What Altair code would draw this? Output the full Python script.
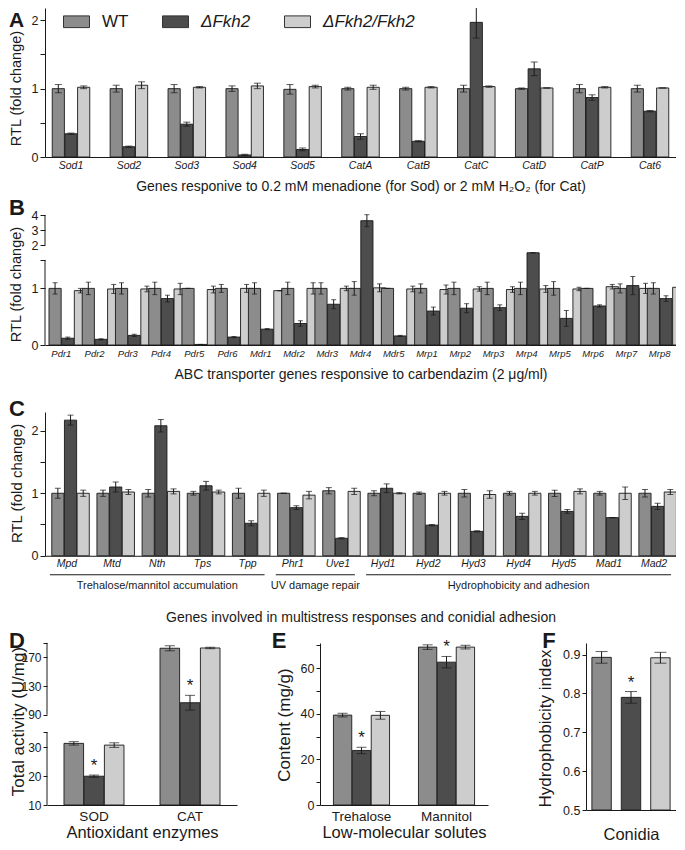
import altair as alt
import pandas as pd

# ---------------- data ----------------
SERIES = ["WT", "ΔFkh2", "ΔFkh2/Fkh2"]
SERIES_FILL = ["#8c8c8c", "#4d4d4d", "#cdcdcd"]
PANEL_LETTERS = ["A", "B", "C", "D", "E", "F"]

A_GENES = ["Sod1", "Sod2", "Sod3", "Sod4", "Sod5", "CatA", "CatB", "CatC", "CatD", "CatP", "Cat6"]
A_WT = [1.00, 1.00, 1.00, 1.00, 0.99, 1.00, 1.00, 1.00, 1.00, 1.00, 1.00]
A_WT_ERR = [0.06, 0.05, 0.06, 0.04, 0.07, 0.02, 0.02, 0.05, 0.01, 0.06, 0.05]
A_DEL = [0.34, 0.15, 0.48, 0.03, 0.11, 0.30, 0.23, 1.97, 1.29, 0.87, 0.67]
A_DEL_ERR = [0.01, 0.01, 0.03, 0.01, 0.02, 0.04, 0.01, 0.23, 0.10, 0.04, 0.01]
A_COM = [1.02, 1.05, 1.02, 1.04, 1.03, 1.02, 1.02, 1.03, 1.01, 1.02, 1.01]
A_COM_ERR = [0.02, 0.05, 0.01, 0.04, 0.02, 0.03, 0.01, 0.01, 0.00, 0.01, 0.00]
A_TITLE = "Genes responive to 0.2 mM menadione (for Sod) or 2 mM H₂O₂ (for Cat)"

B_GENES = ["Pdr1", "Pdr2", "Pdr3", "Pdr4", "Pdr5", "Pdr6", "Mdr1", "Mdr2", "Mdr3", "Mdr4",
           "Mdr5", "Mrp1", "Mrp2", "Mrp3", "Mrp4", "Mrp5", "Mrp6", "Mrp7", "Mrp8"]
B_WT = [1.00, 1.00, 1.00, 1.00, 1.00, 1.00, 1.00, 1.00, 1.00, 1.00, 1.00, 1.00, 1.00, 1.00, 1.00, 1.00, 1.00, 1.00, 1.00]
B_WT_ERR = [0.10, 0.11, 0.10, 0.11, 0.00, 0.07, 0.10, 0.11, 0.10, 0.12, 0.00, 0.08, 0.11, 0.11, 0.11, 0.12, 0.00, 0.08, 0.10]
B_DEL = [0.12, 0.10, 0.17, 0.82, 0.01, 0.14, 0.28, 0.38, 0.72, 3.62, 0.16, 0.60, 0.65, 0.66, 1.63, 0.47, 0.69, 1.05, 0.82]
B_DEL_ERR = [0.02, 0.01, 0.02, 0.06, 0.00, 0.01, 0.01, 0.05, 0.08, 0.40, 0.01, 0.07, 0.08, 0.05, 0.00, 0.14, 0.02, 0.16, 0.05]
B_COM = [0.96, 0.99, 0.99, 0.99, 0.98, 1.00, 0.96, 1.00, 1.00, 1.01, 0.99, 0.98, 0.99, 0.98, 0.99, 0.99, 1.03, 1.00, 1.02]
B_COM_ERR = [0.04, 0.08, 0.05, 0.10, 0.06, 0.07, 0.00, 0.10, 0.04, 0.07, 0.05, 0.08, 0.04, 0.05, 0.06, 0.03, 0.04, 0.09, 0.17]
B_AXIS_SEGMENTS_LO = [0.0, 2.0]
B_AXIS_SEGMENTS_HI = [1.5, 4.0]
B_TITLE = "ABC transporter genes responsive to carbendazim (2 μg/ml)"

C_GENES = ["Mpd", "Mtd", "Nth", "Tps", "Tpp", "Phr1", "Uve1", "Hyd1", "Hyd2", "Hyd3", "Hyd4", "Hyd5", "Mad1", "Mad2"]
C_WT = [1.00, 1.00, 1.00, 1.00, 1.00, 1.00, 1.04, 1.00, 1.00, 1.00, 1.00, 1.00, 1.00, 1.00]
C_WT_ERR = [0.08, 0.05, 0.06, 0.03, 0.08, 0.00, 0.05, 0.04, 0.02, 0.06, 0.03, 0.05, 0.03, 0.06]
C_DEL = [2.17, 1.10, 2.08, 1.12, 0.52, 0.77, 0.28, 1.08, 0.49, 0.39, 0.63, 0.71, 0.61, 0.79]
C_DEL_ERR = [0.08, 0.08, 0.10, 0.07, 0.04, 0.03, 0.01, 0.07, 0.01, 0.01, 0.05, 0.03, 0.00, 0.05]
C_COM = [1.00, 1.02, 1.03, 1.02, 1.00, 0.97, 1.03, 1.00, 1.00, 0.98, 1.00, 1.03, 1.00, 1.02]
C_COM_ERR = [0.05, 0.04, 0.04, 0.03, 0.05, 0.06, 0.05, 0.01, 0.03, 0.06, 0.03, 0.04, 0.10, 0.04]
C_GROUP_NAMES = ["Trehalose/mannitol accumulation", "UV damage repair", "Hydrophobicity and adhesion"]
C_GROUP_FIRST = ["Mpd", "Phr1", "Hyd1"]
C_GROUP_LAST = ["Tpp", "Uve1", "Mad2"]
C_TITLE = "Genes involved in multistress responses and conidial adhesion"

D_CATS = ["SOD", "CAT"]
D_WT = [31.4, 182.6]
D_WT_ERR = [0.6, 3.5]
D_DEL = [20.0, 106.7]
D_DEL_ERR = [0.4, 10.3]
D_COM = [30.8, 183.0]
D_COM_ERR = [0.8, 1.0]
D_AXIS_SEGMENTS_LO = [10.0, 90.0]
D_AXIS_SEGMENTS_HI = [35.3, 190.0]

E_CATS = ["Trehalose", "Mannitol"]
E_WT = [39.4, 69.2]
E_WT_ERR = [0.8, 1.0]
E_DEL = [23.9, 62.6]
E_DEL_ERR = [1.4, 2.5]
E_COM = [39.3, 69.2]
E_COM_ERR = [1.7, 0.8]

F_VAL = [0.893, 0.790, 0.892]
F_ERR = [0.015, 0.015, 0.014]

# ---------------- style ----------------
INK = "#1a1a1a"
REG = "Liberation Sans, Arial, Helvetica, sans-serif"
PANEL_W = 631


def long_table(cats, wt, wt_err, de, de_err, co, co_err):
    rows = []
    for i, c in enumerate(cats):
        for s, v, e in zip(SERIES, (wt[i], de[i], co[i]), (wt_err[i], de_err[i], co_err[i])):
            rows.append({"cat": c, "series": s, "v": v, "err": e})
    return pd.DataFrame(rows)


def map_b(f):
    return f"(datum.{f} <= 1.77 ? datum.{f} * 56.6 : 100 + (datum.{f} - 2) * 15)"


def map_d(f):
    return f"(datum.{f} <= 40 ? (datum.{f} - 10) * 2.88 : 90.3 + (datum.{f} - 90) * 0.7175)"


def with_display(chart, mapping):
    chart = chart.transform_calculate(lo="datum.v - datum.err").transform_calculate(hi="datum.v + datum.err")
    if mapping is None:
        return (chart.transform_calculate(d="datum.v")
                .transform_calculate(dlo="datum.lo").transform_calculate(dhi="datum.hi"))
    return (chart.transform_calculate(d=mapping("v"))
            .transform_calculate(dlo=mapping("lo")).transform_calculate(dhi=mapping("hi")))


def y_axis(values, label_expr, title, title_x, title_y, domain=True, offset=None,
           font_size=12.5, title_size=14.5, tick_size=5):
    kw = dict(values=values, labelExpr=label_expr, title=title, grid=False, domain=domain,
              domainColor=INK, domainWidth=1, ticks=True, tickSize=tick_size, tickColor=INK,
              tickWidth=1, labelFont=REG, labelFontSize=font_size, labelColor=INK,
              labelPadding=2, titleFont=REG, titleFontSize=title_size, titleFontWeight="normal",
              titleColor=INK, titleX=title_x, titleY=title_y, titleAlign="center",
              titleBaseline="middle", titleAngle=270, orient="left")
    if offset is not None:
        kw["offset"] = offset
    return alt.Axis(**kw)


def x_axis(title, title_y, label_size=10.5, italic=True, label_pad=3,
           title_size=14, offset=None, labels=True):
    kw = dict(title=title, labelAngle=0, labels=labels, labelFont=REG,
              labelFontSize=label_size, labelFontStyle="italic" if italic else "normal",
              labelColor=INK, labelPadding=label_pad, ticks=False, tickSize=0, grid=False,
              domain=True, domainColor=INK, domainWidth=1, titleFont=REG,
              titleFontSize=title_size, titleFontWeight="normal", titleColor=INK,
              titleY=title_y, titleBaseline="middle", orient="bottom")
    if offset is not None:
        kw["offset"] = offset
    return alt.Axis(**kw)


def fill_enc():
    return {"fill": alt.Fill("series:N", scale=alt.Scale(domain=SERIES, range=SERIES_FILL), legend=None)}


def bars_block(df, x_enc, y_scale, y_ax, paint, cap, mapping=None, offset=True,
               star=False, y2_base=None, offset_pad=0.04):
    base = with_display(alt.Chart(df), mapping)
    xo = alt.XOffset("series:N", scale=alt.Scale(domain=SERIES, paddingInner=offset_pad)) if offset else None

    def enc(**kw):
        e = {"x": x_enc}
        if xo is not None:
            e["xOffset"] = xo
        e.update(kw)
        return e

    bar_kw = {"y": alt.Y("d:Q", scale=y_scale, axis=y_ax)}
    if y2_base is not None:
        bar_kw["y2"] = alt.datum(y2_base)
    bar_kw.update(paint)
    bars = base.mark_bar(stroke=INK, strokeWidth=0.9).encode(**enc(**bar_kw))
    rule = base.mark_rule(color=INK, strokeWidth=1).encode(
        **enc(y=alt.Y("dlo:Q", scale=y_scale, axis=y_ax), y2=alt.Y2("dhi:Q")))
    cap_lo = base.mark_tick(color=INK, thickness=1, size=cap).encode(
        **enc(y=alt.Y("dlo:Q", scale=y_scale, axis=y_ax)))
    cap_hi = base.mark_tick(color=INK, thickness=1, size=cap).encode(
        **enc(y=alt.Y("dhi:Q", scale=y_scale, axis=y_ax)))
    layers = [bars, rule, cap_lo, cap_hi]
    if star:
        s = (base.transform_filter(alt.datum.series == SERIES[1])
             .mark_text(text="*", dy=-9, fontSize=17, font=REG, color=INK)
             .encode(**enc(y=alt.Y("dhi:Q", scale=y_scale, axis=y_ax))))
        layers.append(s)
    return layers


def letter(ch, x, y, align="left", size=22):
    return alt.Chart(pd.DataFrame({"t": [ch]})).mark_text(
        font=REG, fontSize=size, fontWeight="bold", align=align, baseline="middle", color=INK
    ).encode(text="t:N", x=alt.value(x), y=alt.value(y))


def axis_segments(lo, hi, mapping, y_scale, y_ax, xpos):
    seg = pd.DataFrame({"lo": lo, "hi": hi})
    return (alt.Chart(seg).transform_calculate(slo=mapping("lo")).transform_calculate(shi=mapping("hi"))
            .mark_rule(color=INK, strokeWidth=1)
            .encode(x=alt.value(xpos), y=alt.Y("slo:Q", scale=y_scale, axis=y_ax), y2=alt.Y2("shi:Q")))


def spacer(h):
    return alt.Chart(pd.DataFrame({"gap": [0]})).mark_rule(opacity=0).encode(
        x=alt.value(0), y=alt.value(0), y2=alt.value(1)).properties(width=10, height=h)


def band_x(cats, pin, pout, axis, rng=None, field="cat"):
    sc = dict(domain=cats, paddingInner=pin, paddingOuter=pout)
    if rng is not None:
        sc["range"] = rng
    return alt.X(f"{field}:N", scale=alt.Scale(**sc), axis=axis)


# ---------------- panel A ----------------
A_H, A_PIN, A_POUT = 149, 0.352, 0.125
a_df = long_table(A_GENES, A_WT, A_WT_ERR, A_DEL, A_DEL_ERR, A_COM, A_COM_ERR)
a_ys = alt.Scale(domain=[0, 2.18], nice=False, zero=True)
a_ya = y_axis([0, 0.5, 1, 1.5, 2], "datum.value % 1 == 0 ? format(datum.value, 'd') : ''",
              "RTL (fold change)", -28.5, 80)
a_x = band_x(A_GENES, A_PIN, A_POUT, x_axis(A_TITLE, 29))
a_paint = {"color": alt.Color(
    "series:N", scale=alt.Scale(domain=SERIES, range=SERIES_FILL),
    legend=alt.Legend(orient="none", legendX=18, legendY=0, direction="horizontal", columns=3,
                      title=None, padding=0, columnPadding=31, labelOffset=12,
                      symbolType="M-1,-0.45H1V0.45H-1Z", symbolSize=676,
                      symbolStrokeColor="#333", symbolStrokeWidth=1, labelFont=REG,
                      labelFontSize=17, labelColor=INK,
                      labelFontStyle=alt.ExprRef(expr="datum.label == 'WT' ? 'normal' : 'italic'")))}
a_layers = bars_block(a_df, a_x, a_ys, a_ya, a_paint, 7)
panel_a = alt.layer(*a_layers, letter(PANEL_LETTERS[0], -36, 13, size=21)).properties(width=PANEL_W, height=A_H)

# ---------------- panel B ----------------
B_H, B_PIN, B_POUT = 135, 0.256, 0.12
b_df = long_table(B_GENES, B_WT, B_WT_ERR, B_DEL, B_DEL_ERR, B_COM, B_COM_ERR)
b_ys = alt.Scale(domain=[0, B_H], nice=False, zero=True)
b_ya = y_axis([0, 56.6, 84.9, 100, 115, 130],
              "datum.value < 1 ? '0' : datum.value < 60 ? '1' : datum.value < 90 ? '' : "
              "datum.value < 105 ? '2' : datum.value < 120 ? '3' : '4'",
              "RTL (fold change)", -28.5, 74, domain=False)
b_x = band_x(B_GENES, B_PIN, B_POUT, x_axis(B_TITLE, 29, label_size=9.5))
b_layers = bars_block(b_df, b_x, b_ys, b_ya, fill_enc(), 5, mapping=map_b)
panel_b = alt.layer(*b_layers,
                    axis_segments(B_AXIS_SEGMENTS_LO, B_AXIS_SEGMENTS_HI, map_b, b_ys, b_ya, 0),
                    letter(PANEL_LETTERS[1], -36, -2)).properties(width=PANEL_W, height=B_H)

# ---------------- panel C ----------------
C_H, C_PIN, C_POUT = 143.75, 0.328, 0.15
c_df = long_table(C_GENES, C_WT, C_WT_ERR, C_DEL, C_DEL_ERR, C_COM, C_COM_ERR)
c_ys = alt.Scale(domain=[0, 2.3], nice=False, zero=True)
c_ya = y_axis([0, 0.5, 1, 1.5, 2], "datum.value % 1 == 0 ? format(datum.value, 'd') : ''",
              "RTL (fold change)", -28.5, 71, title_size=15)
c_x = band_x(C_GENES, C_PIN, C_POUT, x_axis(C_TITLE, 62, label_size=10.5))
c_layers = bars_block(c_df, c_x, c_ys, c_ya, fill_enc(), 6)
half = (1 - C_PIN) / 2 + 0.04
grp = pd.DataFrame({
    "name": C_GROUP_NAMES,
    "u0": [C_GENES.index(g) - half for g in C_GROUP_FIRST],
    "u1": [C_GENES.index(g) + half for g in C_GROUP_LAST],
})
u_lo = -(C_POUT + (1 - C_PIN) / 2)
u_hi = len(C_GENES) - C_PIN + C_POUT - (1 - C_PIN) / 2
u_scale = alt.Scale(domain=[u_lo, u_hi], nice=False, zero=False)
grp_base = alt.Chart(grp).transform_calculate(um="(datum.u0 + datum.u1) / 2")
grp_lines = grp_base.mark_rule(color=INK, strokeWidth=1).encode(
    x=alt.X("u0:Q", scale=u_scale, axis=None), x2=alt.X2("u1:Q"), y=alt.value(C_H + 19))
grp_text = grp_base.mark_text(font=REG, fontSize=11, baseline="middle", color=INK).encode(
    x=alt.X("um:Q", scale=u_scale, axis=None), y=alt.value(C_H + 30), text="name:N")
panel_c = alt.layer(
    alt.layer(*c_layers),
    alt.layer(grp_lines, grp_text, letter(PANEL_LETTERS[2], -36, -3)),
).resolve_scale(x="independent").properties(width=PANEL_W, height=C_H)

# ---------------- bottom row: D, E, F ----------------
ROW_H = 167

d_df = long_table(D_CATS, D_WT, D_WT_ERR, D_DEL, D_DEL_ERR, D_COM, D_COM_ERR)
d_ys = alt.Scale(domain=[0, 162], range=[162, 0], nice=False, zero=True)
d_ya = y_axis([0, 28.8, 57.6, 72.9, 90.3, 119, 147.7, 162],
              "datum.value < 1 ? '10' : datum.value < 30 ? '20' : datum.value < 60 ? '30' : "
              "datum.value < 80 ? '' : datum.value < 100 ? '90' : datum.value < 130 ? '130' : "
              "datum.value < 150 ? '170' : ''",
              "Total activity (U/mg)", -29, 78, domain=False, offset=-2, font_size=12,
              title_size=17, tick_size=4)
d_x = band_x(D_CATS, 0.375, 0.177,
             x_axis("Antioxidant enzymes", 27, label_size=13.5, italic=False, label_pad=4,
                    title_size=16.5, offset=-5), rng=[2, 192])
d_layers = bars_block(d_df, d_x, d_ys, d_ya, fill_enc(), 10, mapping=map_d, star=True, offset_pad=0.03)
panel_d = alt.layer(*d_layers,
                    axis_segments(D_AXIS_SEGMENTS_LO, D_AXIS_SEGMENTS_HI, map_d, d_ys, d_ya, 2),
                    letter(PANEL_LETTERS[3], -36, -2))

e_df = long_table(E_CATS, E_WT, E_WT_ERR, E_DEL, E_DEL_ERR, E_COM, E_COM_ERR)
e_ys = alt.Scale(domain=[0, 71], range=[162, 0], nice=False, zero=True)
e_ya = y_axis([0, 10, 20, 30, 40, 50, 60, 70],
              "datum.value % 20 == 0 ? format(datum.value, 'd') : ''",
              "Content (mg/g)", -36, 81.5, offset=-275, font_size=12.5, title_size=17, tick_size=4)
e_x = band_x(E_CATS, 0.34, 0.158,
             x_axis("Low-molecular solutes", 27, label_size=13.5, italic=False, label_pad=4,
                    title_size=16.5, offset=-5), rng=[275, 443])
e_layers = bars_block(e_df, e_x, e_ys, e_ya, fill_enc(), 10, star=True, offset_pad=0.03)
panel_e = alt.layer(*e_layers, letter(PANEL_LETTERS[4], 234, -2, align="center"))

f_df = pd.DataFrame({"series": SERIES, "v": F_VAL, "err": F_ERR})
f_ys = alt.Scale(domain=[0.5, 0.93], range=[167, 0], nice=False, zero=False)
f_ya = y_axis([0.5, 0.6, 0.7, 0.8, 0.9], "format(datum.value, '.1f')",
              "Hydrophobicity index", -41, 85, offset=-541, font_size=12.5, title_size=17, tick_size=4)
f_x = band_x(SERIES, 0.34, 0.2, x_axis("Conidia", 24, labels=False, title_size=16.5),
             rng=[541, PANEL_W], field="series")
f_layers = bars_block(f_df, f_x, f_ys, f_ya, fill_enc(), 12, offset=False, star=True, y2_base=0.5)
panel_f = alt.layer(*f_layers, letter(PANEL_LETTERS[5], 504, -2, align="center"))

bottom = alt.layer(panel_d, panel_e, panel_f).resolve_scale(
    x="independent", y="independent", xOffset="independent"
).properties(width=PANEL_W, height=ROW_H)

chart = alt.vconcat(
    panel_a, spacer(52.3), panel_b, spacer(66.95), panel_c, spacer(87), bottom,
    spacing=0, bounds="flush",
).properties(padding={"left": 0, "top": -2, "right": -10, "bottom": 0}
             ).configure_view(stroke=None).configure_axis(grid=False)

chart.save("out.html", embed_options={"renderer": "svg", "actions": False})
